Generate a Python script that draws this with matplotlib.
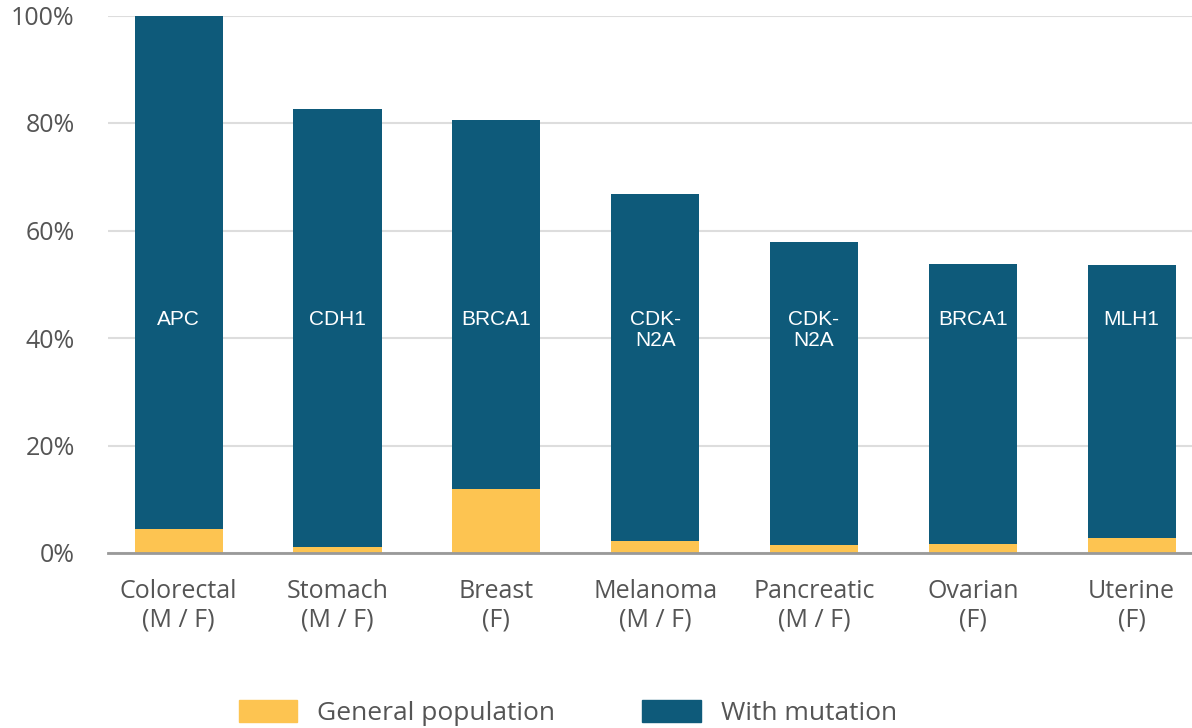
import matplotlib
matplotlib.use('Agg')
import matplotlib.pyplot as plt
from matplotlib.patches import Patch
import numpy as np

# cancer type, gene, lifetime risk (%)
categories = ["Colorectal\n(M / F)", "Stomach\n(M / F)", "Breast\n(F)", "Melanoma\n(M / F)",
              "Pancreatic\n(M / F)", "Ovarian\n(F)", "Uterine\n(F)"]
genes = ["APC", "CDH1", "BRCA1", "CDK-\nN2A", "CDK-\nN2A", "BRCA1", "MLH1"]
with_mutation = [100, 82.6, 80.6, 66.7, 57.9, 53.8, 53.6]
general_pop = [4.4, 1.1, 11.9, 2.2, 1.5, 1.7, 2.8]
yticks = [0, 20, 40, 60, 80, 100]

BLUE = "#0e5a7a"
YELLOW = "#fdc451"
GREY_TXT = "#555555"

fig = plt.figure(figsize=(11.92, 7.28), dpi=100)
ax = fig.add_axes([108 / 1192, 175 / 728, 1 - 108 / 1192, 537.5 / 728])

x = np.arange(len(categories))
w = 0.555
ax.bar(x, with_mutation, width=w, color=BLUE, zorder=2)
ax.bar(x, general_pop, width=w, color=YELLOW, zorder=3)

for xi, g in zip(x, genes):
    ax.text(xi, 45.2, g, ha="center", va="top", color="white", fontsize=15,
            family="Liberation Sans", linespacing=1.15, zorder=4)

ax.set_ylim(0, 100)
ax.set_xlim(-0.445, 6.38)
ax.set_yticks(yticks)
ax.set_yticklabels([f"{v}%" for v in yticks])
ax.set_xticks(x)
ax.set_xticklabels(categories, linespacing=1.15)
ax.tick_params(axis="y", length=0, pad=24, labelsize=18, labelcolor=GREY_TXT)
ax.tick_params(axis="x", length=0, pad=19, labelsize=18, labelcolor=GREY_TXT)
for lab in ax.get_xticklabels() + ax.get_yticklabels():
    lab.set_family("Open Sans")

ax.grid(axis="y", color="#dddddd", linewidth=1.5, zorder=0)
ax.set_axisbelow(True)
for s in ["top", "right", "left"]:
    ax.spines[s].set_visible(False)
ax.spines["bottom"].set_color("#999999")
ax.spines["bottom"].set_linewidth(2)
ax.spines["bottom"].set_zorder(5)

handles = [Patch(color=YELLOW, label="General population"),
           Patch(color=BLUE, label="With mutation")]
fig.legend(handles=handles, loc="center", bbox_to_anchor=(568 / 1192, 1 - 713 / 728),
           ncol=2, frameon=False, handlelength=2.2, handleheight=0.9,
           handletextpad=0.76, columnspacing=3.3,
           prop={"family": "Open Sans", "size": 19}, labelcolor=GREY_TXT)

fig.savefig("out.png", dpi=100)
